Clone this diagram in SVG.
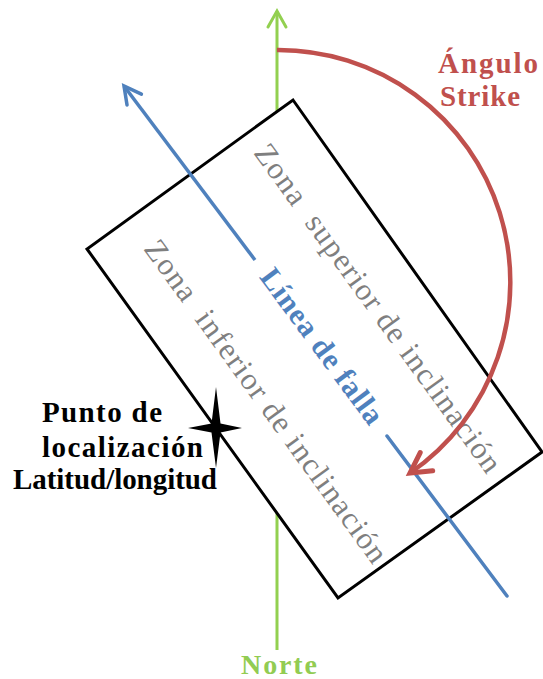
<svg xmlns="http://www.w3.org/2000/svg" width="543" height="679" viewBox="0 0 543 679">
  <style>
    .serif { font-family: "Liberation Serif", "DejaVu Serif", serif; }
    .label { font-weight: bold; fill: #000; font-size: 29px; }
    .zone { fill: #7f7f7f; font-size: 31px; }
    .fault { fill: #4f81bd; font-size: 30px; font-weight: bold; }
    .strike { fill: #c0504d; font-size: 29px; font-weight: bold; }
    .north { fill: #92cc52; font-size: 28px; font-weight: bold; }
  </style>
  <defs>
    <marker id="openGreen" markerUnits="userSpaceOnUse" markerWidth="40" markerHeight="40" orient="auto" overflow="visible">
      <path d="M-16,-9 L0,0 L-16,9" fill="none" stroke="#92d050" stroke-width="3" stroke-linecap="round" stroke-linejoin="miter"/>
    </marker>
    <marker id="openBlue" markerUnits="userSpaceOnUse" markerWidth="40" markerHeight="40" orient="auto" overflow="visible">
      <path d="M-17,-9 L0,0 L-17,9" fill="none" stroke="#4f81bd" stroke-width="3.5" stroke-linecap="round" stroke-linejoin="miter"/>
    </marker>
    <marker id="openRed" markerUnits="userSpaceOnUse" markerWidth="40" markerHeight="40" orient="auto" overflow="visible">
      <path d="M-20,-11 L0,0 L-20,11" fill="none" stroke="#c0504d" stroke-width="5" stroke-linecap="round" stroke-linejoin="miter"/>
    </marker>
  </defs>

  <!-- north axis, drawn beneath the fault block -->
  <g id="north-axis">
    <line x1="277" y1="650" x2="277" y2="11" stroke="#92d050" stroke-width="3" marker-end="url(#openGreen)"/>
  </g>

  <!-- fault block -->
  <g id="fault-block">
    <polygon points="293,100 542,452 338,598 87,249" fill="#fff" stroke="#000" stroke-width="3" stroke-linejoin="miter"/>
    <text class="serif zone" xml:space="preserve" transform="translate(253,153) rotate(54)" textLength="398" lengthAdjust="spacing">Zona  superior de inclinación</text>
    <text class="serif zone" xml:space="preserve" transform="translate(143,249) rotate(54)" textLength="391" lengthAdjust="spacing">Zona  inferior de inclinación</text>
  </g>

  <!-- connectors: fault line and strike angle -->
  <g id="connectors">
    <line x1="255" y1="260" x2="124" y2="86" stroke="#4f81bd" stroke-width="3.5" marker-end="url(#openBlue)"/>
    <line x1="387" y1="436" x2="507" y2="596" stroke="#4f81bd" stroke-width="3.5" stroke-linecap="round"/>
    <path d="M277,50 A232,232 0 0 1 410,473" fill="none" stroke="#c0504d" stroke-width="4.5" marker-end="url(#openRed)"/>
  </g>

  <g id="fault-line-label">
    <text class="serif fault" text-anchor="middle" transform="translate(314,352) rotate(53.5)" textLength="186" lengthAdjust="spacing">Línea de falla</text>
  </g>

  <g id="strike-label">
    <text class="serif strike" x="438" y="73" textLength="100" lengthAdjust="spacing">Ángulo</text>
    <text class="serif strike" x="440" y="106" textLength="80" lengthAdjust="spacing">Strike</text>
  </g>

  <!-- location point -->
  <g id="location-point">
    <path d="M216,387 L220.5,423.5 L242,428 L220.5,432.5 L216,468 L211.5,432.5 L188,428 L211.5,423.5 Z" fill="#000"/>
    <text class="serif label" x="42" y="422" textLength="120" lengthAdjust="spacing">Punto de</text>
    <text class="serif label" x="42" y="457" textLength="161" lengthAdjust="spacing">localización</text>
    <text class="serif label" x="13" y="489" textLength="204" lengthAdjust="spacing">Latitud/longitud</text>
  </g>

  <g id="north-label">
    <text class="serif north" x="241" y="674" textLength="76" lengthAdjust="spacing">Norte</text>
  </g>
</svg>
